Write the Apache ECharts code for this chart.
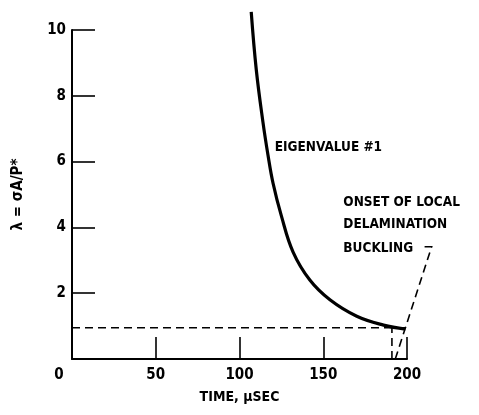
<!DOCTYPE html>
<html>
<head>
<meta charset="utf-8">
<script src="https://cdn.jsdelivr.net/npm/echarts@6/dist/echarts.min.js"></script>
<style>
  html, body { margin: 0; padding: 0; background: #fff; }
  #main { width: 479px; height: 415px; }
</style>
</head>
<body>
<div id="main"></div>
<script>
// eigenvalue #1 vs time (usec)
var eigenCurve = [
  [107, 10.55], [110, 8.8], [114, 7.2], [117, 6.2], [120, 5.35], [125, 4.35],
  [132, 3.25], [142, 2.4], [154, 1.8], [170, 1.3], [186, 1.03], [199, 0.91]
];
// onset level + markers
var onsetLevel = 0.95;
var onsetTime = 191;
var leaderLine = [[193, 0], [214.7, 3.41], [210.5, 3.41]];
var xTicks = [0, 50, 100, 150, 200];
var yTicks = [2, 4, 6, 8, 10];
var notes = [
  { text: 'EIGENVALUE #1', x: 121, y: 6.44 },
  { text: 'ONSET OF LOCAL', x: 162, y: 4.77 },
  { text: 'DELAMINATION', x: 162, y: 4.1 },
  { text: 'BUCKLING', x: 162, y: 3.37 }
];

var font = '"DejaVu Sans Condensed", "DejaVu Sans", sans-serif';
var chart = echarts.init(document.getElementById('main'));

var dashed = { color: '#000', width: 1.6, type: [8, 5] };

chart.setOption({
  animation: false,
  grid: { left: 72, right: 72, top: 30, bottom: 56 },
  xAxis: {
    type: 'value',
    min: 0, max: 200, interval: 50,
    name: 'TIME, μSEC',
    nameLocation: 'middle',
    nameGap: 31,
    nameTextStyle: { color: '#000', fontSize: 14, fontWeight: 'bold', fontFamily: font },
    axisLine: { lineStyle: { color: '#000', width: 2 } },
    axisTick: { inside: true, length: 22, lineStyle: { color: '#000', width: 1.6 } },
    axisLabel: {
      color: '#000', fontSize: 15, fontWeight: 'bold', fontFamily: font, margin: 9,
      formatter: function (v) { return v === 0 ? '{z|0}' : String(v); },
      rich: { z: { fontSize: 15, fontWeight: 'bold', fontFamily: font, color: '#000', padding: [0, 26, 0, 0] } }
    },
    splitLine: { show: false }
  },
  yAxis: {
    type: 'value',
    min: 0, max: 10, interval: 2,
    name: 'λ = σA/P*',
    nameLocation: 'middle',
    nameGap: 46,
    nameRotate: 90,
    nameTextStyle: { color: '#000', fontSize: 15, fontWeight: 'bold', fontFamily: font },
    axisLine: { lineStyle: { color: '#000', width: 2 } },
    axisTick: { inside: true, length: 23, lineStyle: { color: '#000', width: 1.6 } },
    axisLabel: { color: '#000', fontSize: 15, fontWeight: 'bold', fontFamily: font, margin: 6, showMinLabel: false },
    splitLine: { show: false }
  },
  series: [
    {
      type: 'line', data: eigenCurve, smooth: 0.4, symbol: 'none',
      lineStyle: { color: '#000', width: 3.2 }, clip: false
    },
    {
      type: 'line', data: [[0, onsetLevel], [eigenCurve[eigenCurve.length - 1][0], onsetLevel]],
      symbol: 'none', lineStyle: dashed
    },
    {
      type: 'line', data: [[onsetTime, 0], [onsetTime, onsetLevel]],
      symbol: 'none', lineStyle: dashed
    }
  ]
});

// leader line runs outside the grid, so draw it as a graphic
var leaderPts = leaderLine.map(function (d) {
  return chart.convertToPixel({ gridIndex: 0 }, d);
});
var graphics = notes.map(function (n) {
  var p = chart.convertToPixel({ gridIndex: 0 }, [n.x, n.y]);
  return {
    type: 'text', x: p[0], y: p[1],
    style: { text: n.text, fill: '#000', font: 'bold 13.5px ' + font, verticalAlign: 'middle', align: 'left' }
  };
});
graphics.push({
  type: 'polyline',
  shape: { points: leaderPts },
  style: { stroke: '#000', lineWidth: 1.6, lineDash: [8, 5], fill: null }
});
chart.setOption({ graphic: graphics });
</script>
</body>
</html>
